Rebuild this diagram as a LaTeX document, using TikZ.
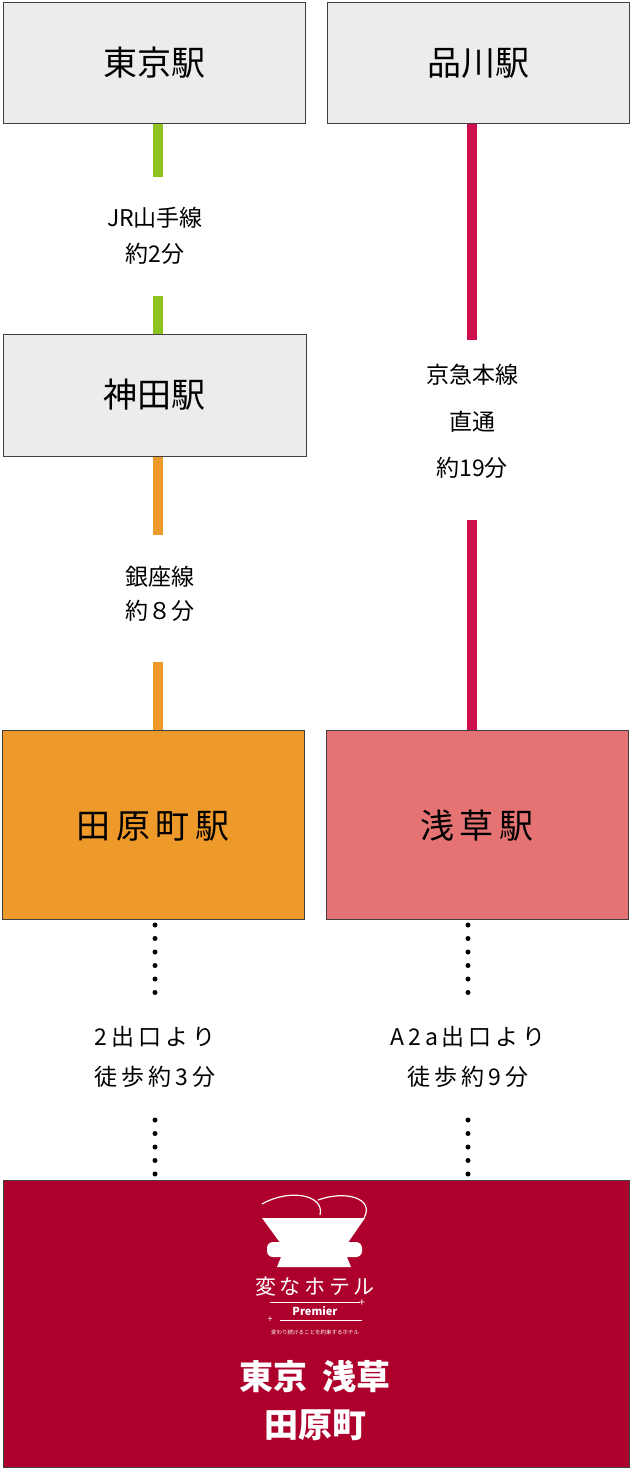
\documentclass[tikz,border=0pt]{standalone}
\usepackage{fontspec}
\setmainfont{Noto Sans CJK JP}
\newfontfamily\jpb{Noto Sans CJK JP}[BoldFont={* Bold}]
\begin{document}
\begin{tikzpicture}[x=1pt,y=-1pt,
 stbox/.style={draw=black!75,line width=0.8pt},
 big/.style={font=\fontsize{34}{40}\selectfont},
 lbl/.style={font=\fontsize{23}{28}\selectfont},
 dots/.style={line width=5pt,line cap=round,dash pattern=on 0pt off 13.5pt},
 wl/.style={white,font=\bfseries\fontsize{34}{40}\selectfont}]
\useasboundingbox (0,0) rectangle (630,1469);
\definecolor{gy}{HTML}{ECECEC}\definecolor{og}{HTML}{EE9A2A}
\definecolor{pk}{HTML}{E57373}\definecolor{wine}{HTML}{AD002C}
\definecolor{grn}{HTML}{8DC21F}\definecolor{rd}{HTML}{D0104C}
% lines
\draw[grn,line width=10pt] (158,123)--(158,177) (158,296)--(158,334);
\draw[rd,line width=10pt] (472,123)--(472,340) (472,520)--(472,730);
\draw[og,line width=10pt] (158,456)--(158,535) (158,662)--(158,730);
\draw[dots] (155,925)--(155,1005) (155,1120)--(155,1178);
\draw[dots] (468,925)--(468,1005) (468,1120)--(468,1178);
% boxes
\draw[stbox,fill=gy] (3,2) rectangle (305,123);
\node[big] (tokyo) at (154,63) {東京駅};
\draw[stbox,fill=gy] (327,2) rectangle (629,123);
\node[big] (shina) at (478,63) {品川駅};
\draw[stbox,fill=gy] (3,334) rectangle (306,456);
\node[big] (kanda) at (154,395) {神田駅};
\draw[stbox,fill=og] (2,730) rectangle (304,919);
\node[big] (tawara) at (153,826) {田\,原\,町\,駅};
\draw[stbox,fill=pk] (326,730) rectangle (628,919);
\node[big] (asa) at (477,826) {浅\,草\,駅};
\draw[stbox,fill=wine] (3,1180) rectangle (629,1467);
% labels
\node[lbl] (l1) at (155,218) {JR山手線};
\node[lbl] (l2) at (155,254) {約2分};
\node[lbl] (l3) at (472,375) {京急本線};
\node[lbl] (l4) at (472,422) {直通};
\node[lbl] (l5) at (472,468) {約19分};
\node[lbl] (l6) at (160,577) {銀座線};
\node[lbl] (l7) at (160,611) {約８分};
\node[lbl] (l8) at (155,1037) {2\,出\,口\,よ\,り};
\node[lbl] (l9) at (155,1077) {徒\,歩\,約\,3\,分};
\node[lbl] (l10) at (468,1037) {A\,2\,a\,出\,口\,よ\,り};
\node[lbl] (l11) at (468,1077) {徒\,歩\,約\,9\,分};
% logo
\fill[white] (262,1218)--(365,1218)--(347,1244)--(281,1244)--cycle;
\fill[white,rounded corners=6pt] (267,1242) rectangle (362,1257);
\fill[white] (281,1257)--(347,1257)--(351,1267)--(277,1267)--cycle;
\draw[white,line width=1.2pt] (262,1204) .. controls (290,1188) and (325,1195) .. (320,1215);
\draw[white,line width=1.2pt] (318,1200) .. controls (345,1190) and (375,1198) .. (364,1218);
\node[white,font=\fontsize{21}{24}\selectfont] (hen) at (315,1287) {変\,な\,ホ\,テ\,ル};
\draw[white,line width=0.6pt] (270,1302)--(360,1302) (280,1320)--(362,1320);
\node[white,font=\bfseries\fontsize{11}{12}\selectfont] (prem) at (315,1311) {Premier};
\node[white,font=\fontsize{11}{12}\selectfont] at (362,1303) {+};
\node[white,font=\fontsize{9}{10}\selectfont] at (270,1320) {+};
\node[white,font=\fontsize{5.5}{6}\selectfont] (tag) at (315,1332) {変わり続けることを約束するホテル};
\node[wl] (n1) at (315,1376) {東京\ \ 浅草};
\node[wl] (n2) at (315,1425) {田原町};
\end{tikzpicture}
\end{document}
